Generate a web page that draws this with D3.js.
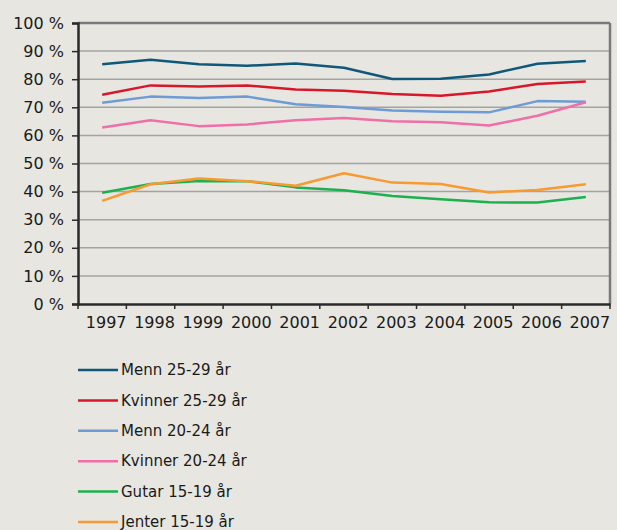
<!DOCTYPE html>
<html>
<head>
  <meta charset="utf-8">
  <script src="https://cdnjs.cloudflare.com/ajax/libs/d3/7.8.5/d3.min.js"></script>
  <style>
    body { margin: 0; background: #e7e6e0; }
    text { font-family: "DejaVu Sans", Verdana, sans-serif; fill: #1a1a1a; }
  </style>
</head>
<body>
  <div id="chart"></div>

  <script>
    const years = ['1997', '1998', '1999', '2000', '2001', '2002', '2003', '2004', '2005', '2006', '2007'];
    const yTicks = [0, 10, 20, 30, 40, 50, 60, 70, 80, 90, 100];

    const menn2529    = [85.3, 86.9, 85.3, 84.8, 85.6, 84.1, 80.1, 80.2, 81.7, 85.5, 86.5];
    const kvinner2529 = [74.5, 77.8, 77.4, 77.8, 76.3, 75.9, 74.7, 74.1, 75.6, 78.3, 79.2];
    const menn2024    = [71.6, 73.8, 73.3, 73.8, 71.1, 70.1, 68.9, 68.4, 68.2, 72.2, 72.0];
    const kvinner2024 = [62.8, 65.4, 63.3, 63.9, 65.4, 66.2, 65.0, 64.7, 63.5, 67.0, 71.8];
    const gutar1519   = [39.6, 42.7, 43.8, 43.7, 41.5, 40.5, 38.4, 37.3, 36.2, 36.1, 38.1];
    const jenter1519  = [36.7, 42.6, 44.7, 43.7, 42.1, 46.5, 43.2, 42.7, 39.7, 40.6, 42.6];

    const seriesNames = ['Menn 25-29 år', 'Kvinner 25-29 år', 'Menn 20-24 år', 'Kvinner 20-24 år', 'Gutar 15-19 år', 'Jenter 15-19 år'];
    const seriesColors = ['#10587a', '#d8172b', '#6e9bd6', '#ef6fa9', '#1cb04f', '#f79a32'];
    const seriesValues = [menn2529, kvinner2529, menn2024, kvinner2024, gutar1519, jenter1519];

    const width = 617, height = 530;
    const plot = { left: 78, right: 610, top: 23, bottom: 304 };

    const svg = d3.select('#chart').append('svg')
      .attr('width', width)
      .attr('height', height);

    const x = d3.scaleBand().domain(years).range([plot.left, plot.right]);
    const y = d3.scaleLinear().domain([0, 100]).range([plot.bottom, plot.top]);

    // gridlines
    svg.append('g').selectAll('line')
      .data(yTicks.filter(d => d > 0))
      .join('line')
      .attr('x1', plot.left).attr('x2', plot.right)
      .attr('y1', d => y(d)).attr('y2', d => y(d))
      .attr('stroke', d => d === 100 ? '#7a7a7a' : '#a3a3a3')
      .attr('stroke-width', d => d === 100 ? 2.5 : 1.5);

    // right border
    svg.append('line')
      .attr('x1', plot.right).attr('x2', plot.right)
      .attr('y1', plot.top).attr('y2', plot.bottom)
      .attr('stroke', '#7a7a7a').attr('stroke-width', 2.5);

    // y axis
    const yAxis = svg.append('g')
      .attr('transform', `translate(${plot.left},0)`)
      .call(d3.axisLeft(y).tickValues(yTicks).tickFormat(d => d + ' %').tickSize(6).tickPadding(8));
    yAxis.select('.domain').attr('stroke', '#2a2a2a').attr('stroke-width', 2.5);
    yAxis.selectAll('.tick line').attr('stroke', '#2a2a2a').attr('stroke-width', 1.5);
    yAxis.selectAll('.tick text').style('font-size', '16px').attr('fill', '#1a1a1a');

    // x axis: labels
    const xAxis = svg.append('g')
      .attr('transform', `translate(0,${plot.bottom})`)
      .call(d3.axisBottom(x).tickSize(0).tickPadding(13));
    xAxis.select('.domain').attr('stroke', '#2a2a2a').attr('stroke-width', 2.5);
    xAxis.selectAll('.tick text').style('font-size', '16px').attr('dx', 4).attr('fill', '#1a1a1a');

    // x axis: ticks at band boundaries
    svg.append('g').selectAll('line')
      .data(years.map(d => x(d)).concat([plot.right]))
      .join('line')
      .attr('x1', d => d).attr('x2', d => d)
      .attr('y1', plot.bottom).attr('y2', plot.bottom + 5)
      .attr('stroke', '#2a2a2a').attr('stroke-width', 1.5);

    const line = d3.line()
      .x((d, i) => x(years[i]) + x.bandwidth() / 2)
      .y(d => y(d));

    svg.append('g').selectAll('path')
      .data(seriesValues)
      .join('path')
      .attr('d', line)
      .attr('fill', 'none')
      .attr('stroke', (d, i) => seriesColors[i])
      .attr('stroke-width', 2.5)
      .attr('stroke-linejoin', 'round');

    // legend
    const legend = svg.append('g').selectAll('g')
      .data(seriesNames)
      .join('g')
      .attr('transform', (d, i) => `translate(78,${370 + i * 30.4})`);

    legend.append('line')
      .attr('x1', 0).attr('x2', 40)
      .attr('stroke', (d, i) => seriesColors[i])
      .attr('stroke-width', 2.5);

    legend.append('text')
      .attr('x', 43)
      .attr('dy', '0.35em')
      .style('font-size', '15px')
      .text(d => d);
  </script>
</body>
</html>
